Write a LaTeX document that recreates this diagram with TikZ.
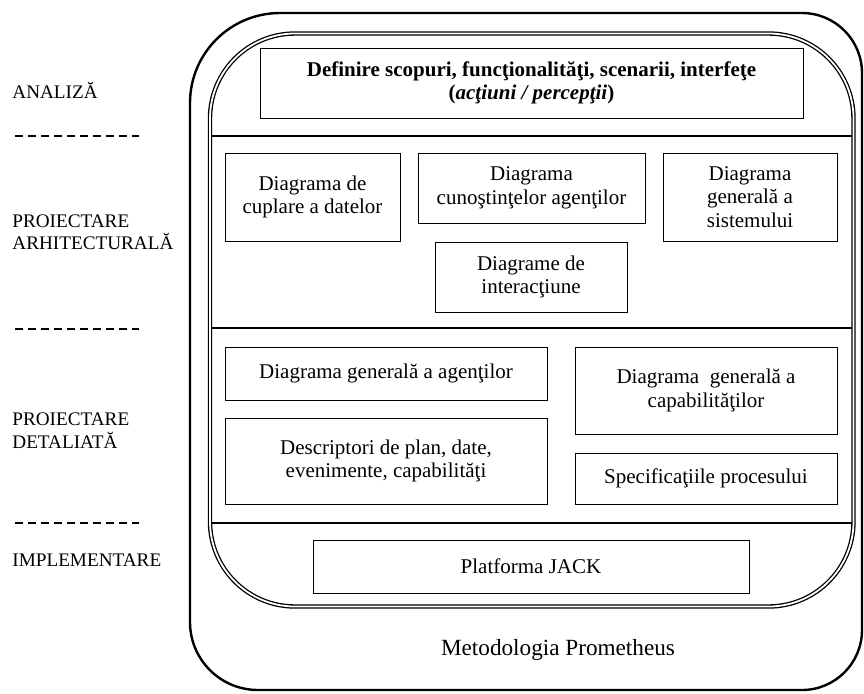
\documentclass[tikz,border=0pt]{standalone}
\usepackage{fontspec}
\setmainfont{Liberation Serif}
\begin{document}
\begin{tikzpicture}[x=0.5pt,y=-0.5pt,
  box/.style={draw, line width=0.5pt, inner sep=0pt, align=center, font=\fontsize{10.5}{11.8}\selectfont},
  lbl/.style={inner sep=0pt, align=left, font=\fontsize{9.6}{11.2}\selectfont},
  phase/.style={line width=1pt, dash pattern=on 3.9pt off 2.6pt},
  divider/.style={line width=0.6pt},
  frameout/.style={line width=1.2pt},
  framein/.style={double, draw=black, double=white, line width=0.65pt, double distance=0.9pt}
]
\useasboundingbox (0,0) rectangle (864,693);

% outer frame
\draw[frameout] (190,103) .. controls (190,53.3) and (230.3,13) .. (280,13)
  -- (802,13) .. controls (835.1,13) and (862,39.9) .. (862,73)
  -- (862,630) .. controls (862,663.1) and (835.1,690) .. (802,690)
  -- (258,690) .. controls (220.4,690) and (190,659.6) .. (190,622) -- cycle;

% inner double frame
\draw[framein, rounded corners=42.5pt] (210,33.5) rectangle (853.5,606.5);

% dividers
\draw[divider] (212,136) -- (852,136);
\draw[divider] (212,328) -- (852,328);
\draw[divider] (212,523) -- (852,523);

% phase separators
\draw[phase] (15,136) -- (139,136);
\draw[phase] (15,329) -- (139,329);
\draw[phase] (15,523) -- (139,523);

% phase labels
\node[lbl, anchor=base west] (analiza) at (12,98.5) {ANALIZĂ};
\node[lbl, anchor=west] (arhit) at (12,232.5) {PROIECTARE\\ARHITECTURALĂ};
\node[lbl, anchor=west] (detal) at (12,430.5) {PROIECTARE\\DETALIATĂ};
\node[lbl, anchor=base west] (impl) at (12,566.5) {IMPLEMENTARE};

% boxes
\node[box, minimum width=271.5pt, minimum height=35pt] (scop) at (531.5,83)
  {\textbf{Definire scopuri, funcţionalităţi, scenarii, interfeţe}\\\textbf{(\textit{acţiuni / percepţii})}};
\node[box, minimum width=87.5pt, minimum height=44pt] (cupl) at (312.5,197) {Diagrama de\\cuplare a datelor};
\node[box, minimum width=113.5pt, minimum height=35pt] (cuno) at (531.5,188) {Diagrama\\cunoştinţelor agenţilor};
\node[box, minimum width=87pt, minimum height=44pt] (sist) at (750,197) {Diagrama\\generală a\\sistemului};
\node[box, minimum width=96pt, minimum height=35pt] (inter) at (531,277) {Diagrame de\\interacţiune};
\node[box, minimum width=161pt, minimum height=26.5pt] (agen) at (386,373.5) {Diagrama generală a agenţilor};
\node[box, minimum width=161pt, minimum height=43pt] (desc) at (386,461) {Descriptori de plan, date,\\evenimente, capabilităţi};
\node[box, minimum width=131pt, minimum height=43.5pt] (capa) at (706,390.5) {Diagrama\ \ generală a\\capabilităţilor};
\node[box, minimum width=131pt, minimum height=25.5pt] (spec) at (706,478.5) {Specificaţiile procesului};
\node[box, minimum width=218pt, minimum height=26.5pt] (jack) at (531,566.5) {Platforma JACK};

\node[inner sep=0pt, font=\fontsize{11.6}{13}\selectfont] (meto) at (558,650) {Metodologia Prometheus};
\end{tikzpicture}
\end{document}
